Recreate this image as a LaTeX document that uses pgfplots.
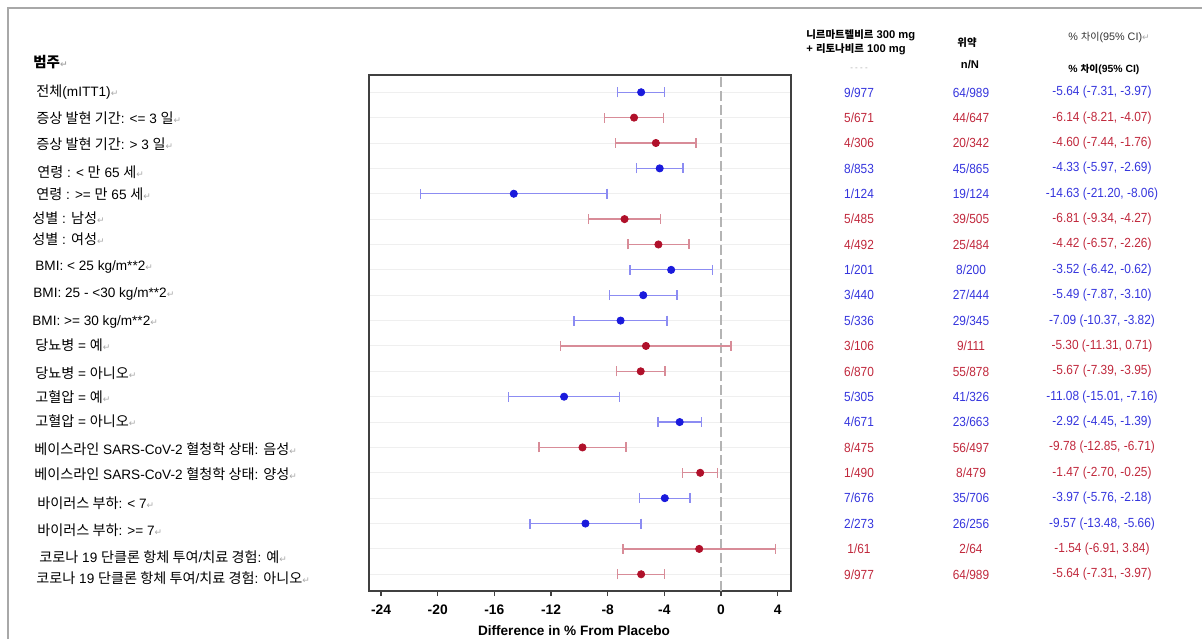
\documentclass[border=0pt]{standalone}
\usepackage{fontspec}
\usepackage{pgfplots}
\usepackage{pgfplotstable}
\pgfplotsset{compat=1.18}
\setmainfont{Liberation Sans}
\newfontfamily\K[Scale=0.93]{Noto Sans CJK KR}
\newfontfamily\KL[Scale=1.04]{Noto Sans CJK KR}
\newfontfamily\tabf[FakeStretch=0.9]{Liberation Sans}
\newfontfamily\arr{DejaVu Sans}

\definecolor{bluedot}{HTML}{1A1ADC}
\definecolor{reddot}{HTML}{B0102A}
\definecolor{bluebar}{HTML}{8C8CF2}
\definecolor{redbar}{HTML}{D88C98}
\definecolor{bluetxt}{HTML}{3535DD}
\definecolor{redtxt}{HTML}{C0283C}
\definecolor{gridgray}{HTML}{EFEFEF}
\definecolor{zerogray}{HTML}{B4B4B4}
\definecolor{axisgray}{HTML}{404040}
\definecolor{framegray}{HTML}{A8A8A8}
\definecolor{retgray}{HTML}{A8A8A8}

\newcommand\ret{{\arr\fontsize{4.5}{5}\selectfont\textcolor{retgray}{ ↵}}}

% rows counted from the top: 1 .. 20
\pgfplotstableread{
row est lo hi
1 -5.64 -7.31 -3.97
4 -4.33 -5.97 -2.69
5 -14.63 -21.20 -8.06
8 -3.52 -6.42 -0.62
9 -5.49 -7.87 -3.10
10 -7.09 -10.37 -3.82
13 -11.08 -15.01 -7.16
14 -2.92 -4.45 -1.39
17 -3.97 -5.76 -2.18
18 -9.57 -13.48 -5.66
}\bluerows

\pgfplotstableread{
row est lo hi
2 -6.14 -8.21 -4.07
3 -4.60 -7.44 -1.76
6 -6.81 -9.34 -4.27
7 -4.42 -6.57 -2.26
11 -5.30 -11.31 0.71
12 -5.67 -7.39 -3.95
15 -9.78 -12.85 -6.71
16 -1.47 -2.70 -0.25
19 -1.54 -6.91 3.84
20 -5.64 -7.31 -3.97
}\redrows

% label at pixel position
\newcommand\lab[3]{\node[anchor=west, inner sep=0pt] at (#1,#2) {#3\ret};}
% table row: index, colour, n/N drug, n/N placebo, difference
\newcommand\trow[5]{%
  \node[text=#2] at (859,{92.3+25.37*(#1-1)}) {#3};
  \node[text=#2] at (971,{92.3+25.37*(#1-1)}) {#4};
  \node[text=#2] at (1102,{92.3+25.37*(#1-1)}) {#5};}

\begin{document}
\begin{tikzpicture}
\useasboundingbox (0,0) rectangle (601pt,-319.5pt);

\begin{axis}[
    at={(184.5pt,-295.5pt)}, anchor=south west,
    width=211pt, height=258pt, scale only axis,
    xmin=-24.85, xmax=4.94,
    ymin=-20.66, ymax=-0.32,
    xtick={-24,-20,...,4},
    ytick={-20,...,-1}, yticklabels={},
    ytick style={draw=none},
    ymajorgrids,
    grid style={gridgray, line width=0.5pt},
    axis line style={axisgray, line width=0.75pt},
    xtick pos=bottom,
    tick align=outside,
    major tick length=2.5pt,
    xtick style={axisgray, line width=0.6pt},
    /pgf/number format/assume math mode=true,
    xticklabel style={font=\bfseries\fontsize{6.9}{8}\selectfont, yshift=-1pt},
    xlabel={Difference in \% From Placebo},
    xlabel style={font=\bfseries\fontsize{6.8}{8}\selectfont,
        at={(axis description cs:0.5,0)}, anchor=center, yshift=-20pt, xshift=-3pt},
]
\addplot[zerogray, line width=0.7pt, dash pattern=on 5pt off 2pt, forget plot]
    coordinates {(0,-20.66) (0,-0.32)};

\addplot[draw=none, forget plot,
    error bars/.cd, x dir=both, x explicit,
    error bar style={bluebar, line width=0.65pt},
    error mark options={bluebar, line width=0.65pt, mark size=2.5pt, rotate=90}]
    table[x=est, y expr=-\thisrow{row},
          x error plus expr=\thisrow{hi}-\thisrow{est},
          x error minus expr=\thisrow{est}-\thisrow{lo}] {\bluerows};
\addplot[draw=none, forget plot,
    error bars/.cd, x dir=both, x explicit,
    error bar style={redbar, line width=0.65pt},
    error mark options={redbar, line width=0.65pt, mark size=2.5pt, rotate=90}]
    table[x=est, y expr=-\thisrow{row},
          x error plus expr=\thisrow{hi}-\thisrow{est},
          x error minus expr=\thisrow{est}-\thisrow{lo}] {\redrows};

\addplot[only marks, mark=*, mark size=1.8pt, bluedot]
    table[x=est, y expr=-\thisrow{row}] {\bluerows};
\addplot[only marks, mark=*, mark size=1.8pt, reddot]
    table[x=est, y expr=-\thisrow{row}] {\redrows};
\end{axis}

\begin{scope}[x=0.5pt, y=-0.5pt]
\draw[framegray, line width=0.9pt] (8,639) -- (8,8) -- (1202,8);

\node[anchor=west, inner sep=0pt, font=\K\bfseries\fontsize{7.8}{9}\selectfont] at (33,62) {범주\ret};

\begin{scope}[every node/.style={font=\fontsize{6.8}{8}\selectfont}]
\lab{36}{92}{{\KL 전체}(mITT1)}
\lab{36}{118}{{\KL 증상 발현 기간}: <= 3 {\KL 일}}
\lab{36}{144}{{\KL 증상 발현 기간}: > 3 {\KL 일}}
\lab{37}{172}{{\KL 연령} : < {\KL 만} 65 {\KL 세}}
\lab{36}{194}{{\KL 연령} : >= {\KL 만} 65 {\KL 세}}
\lab{32}{218}{{\KL 성별} : {\KL 남성}}
\lab{32}{239}{{\KL 성별} : {\KL 여성}}
\lab{35}{267}{BMI: < 25 kg/m**2}
\lab{33}{294}{BMI: 25 - <30 kg/m**2}
\lab{32}{322}{BMI: >= 30 kg/m**2}
\lab{35}{345}{{\KL 당뇨병} = {\KL 예}}
\lab{35}{373}{{\KL 당뇨병} = {\KL 아니오}}
\lab{35}{397}{{\KL 고혈압} = {\KL 예}}
\lab{35}{421}{{\KL 고혈압} = {\KL 아니오}}
\lab{34}{449}{{\KL 베이스라인} SARS-CoV-2 {\KL 혈청학 상태}: {\KL 음성}}
\lab{34}{474}{{\KL 베이스라인} SARS-CoV-2 {\KL 혈청학 상태}: {\KL 양성}}
\lab{37}{503}{{\KL 바이러스 부하}: < 7}
\lab{37}{530}{{\KL 바이러스 부하}: >= 7}
\lab{39}{557}{{\KL 코로나} 19 {\KL 단클론 항체 투여}/{\KL 치료 경험}: {\KL 예}}
\lab{36}{578}{{\KL 코로나} 19 {\KL 단클론 항체 투여}/{\KL 치료 경험}: {\KL 아니오}}
\end{scope}

% column headers
\begin{scope}[every node/.style={font=\bfseries\fontsize{5.6}{6.5}\selectfont, inner sep=0pt}]
\node[anchor=west] at (806,35) {{\K 니르마트렐비르} 300 mg};
\node[anchor=west] at (806,49) {+ {\K 리토나비르} 100 mg};
\node at (967,43) {{\K 위약}};
\node at (970,65) {n/N};
\node[text=retgray, font=\fontsize{4}{5}\selectfont] at (859,69) {- - - -};
\node[anchor=west, font=\fontsize{5.4}{6.5}\selectfont, text=black!80] at (1068,37) {\% {\K 차이}(95\% CI)\ret};
\node[anchor=west, font=\bfseries\fontsize{5.2}{6.5}\selectfont] at (1068,69) {\% {\K 차이}(95\% CI)};
\end{scope}

% table body
\begin{scope}[every node/.style={font=\tabf\fontsize{6.6}{8}\selectfont, inner sep=0pt}]
\trow{1}{bluetxt}{9/977}{64/989}{-5.64 (-7.31, -3.97)}
\trow{2}{redtxt}{5/671}{44/647}{-6.14 (-8.21, -4.07)}
\trow{3}{redtxt}{4/306}{20/342}{-4.60 (-7.44, -1.76)}
\trow{4}{bluetxt}{8/853}{45/865}{-4.33 (-5.97, -2.69)}
\trow{5}{bluetxt}{1/124}{19/124}{-14.63 (-21.20, -8.06)}
\trow{6}{redtxt}{5/485}{39/505}{-6.81 (-9.34, -4.27)}
\trow{7}{redtxt}{4/492}{25/484}{-4.42 (-6.57, -2.26)}
\trow{8}{bluetxt}{1/201}{8/200}{-3.52 (-6.42, -0.62)}
\trow{9}{bluetxt}{3/440}{27/444}{-5.49 (-7.87, -3.10)}
\trow{10}{bluetxt}{5/336}{29/345}{-7.09 (-10.37, -3.82)}
\trow{11}{redtxt}{3/106}{9/111}{-5.30 (-11.31, 0.71)}
\trow{12}{redtxt}{6/870}{55/878}{-5.67 (-7.39, -3.95)}
\trow{13}{bluetxt}{5/305}{41/326}{-11.08 (-15.01, -7.16)}
\trow{14}{bluetxt}{4/671}{23/663}{-2.92 (-4.45, -1.39)}
\trow{15}{redtxt}{8/475}{56/497}{-9.78 (-12.85, -6.71)}
\trow{16}{redtxt}{1/490}{8/479}{-1.47 (-2.70, -0.25)}
\trow{17}{bluetxt}{7/676}{35/706}{-3.97 (-5.76, -2.18)}
\trow{18}{bluetxt}{2/273}{26/256}{-9.57 (-13.48, -5.66)}
\trow{19}{redtxt}{1/61}{2/64}{-1.54 (-6.91, 3.84)}
\trow{20}{redtxt}{9/977}{64/989}{-5.64 (-7.31, -3.97)}
\end{scope}
\end{scope}
\end{tikzpicture}
\end{document}
